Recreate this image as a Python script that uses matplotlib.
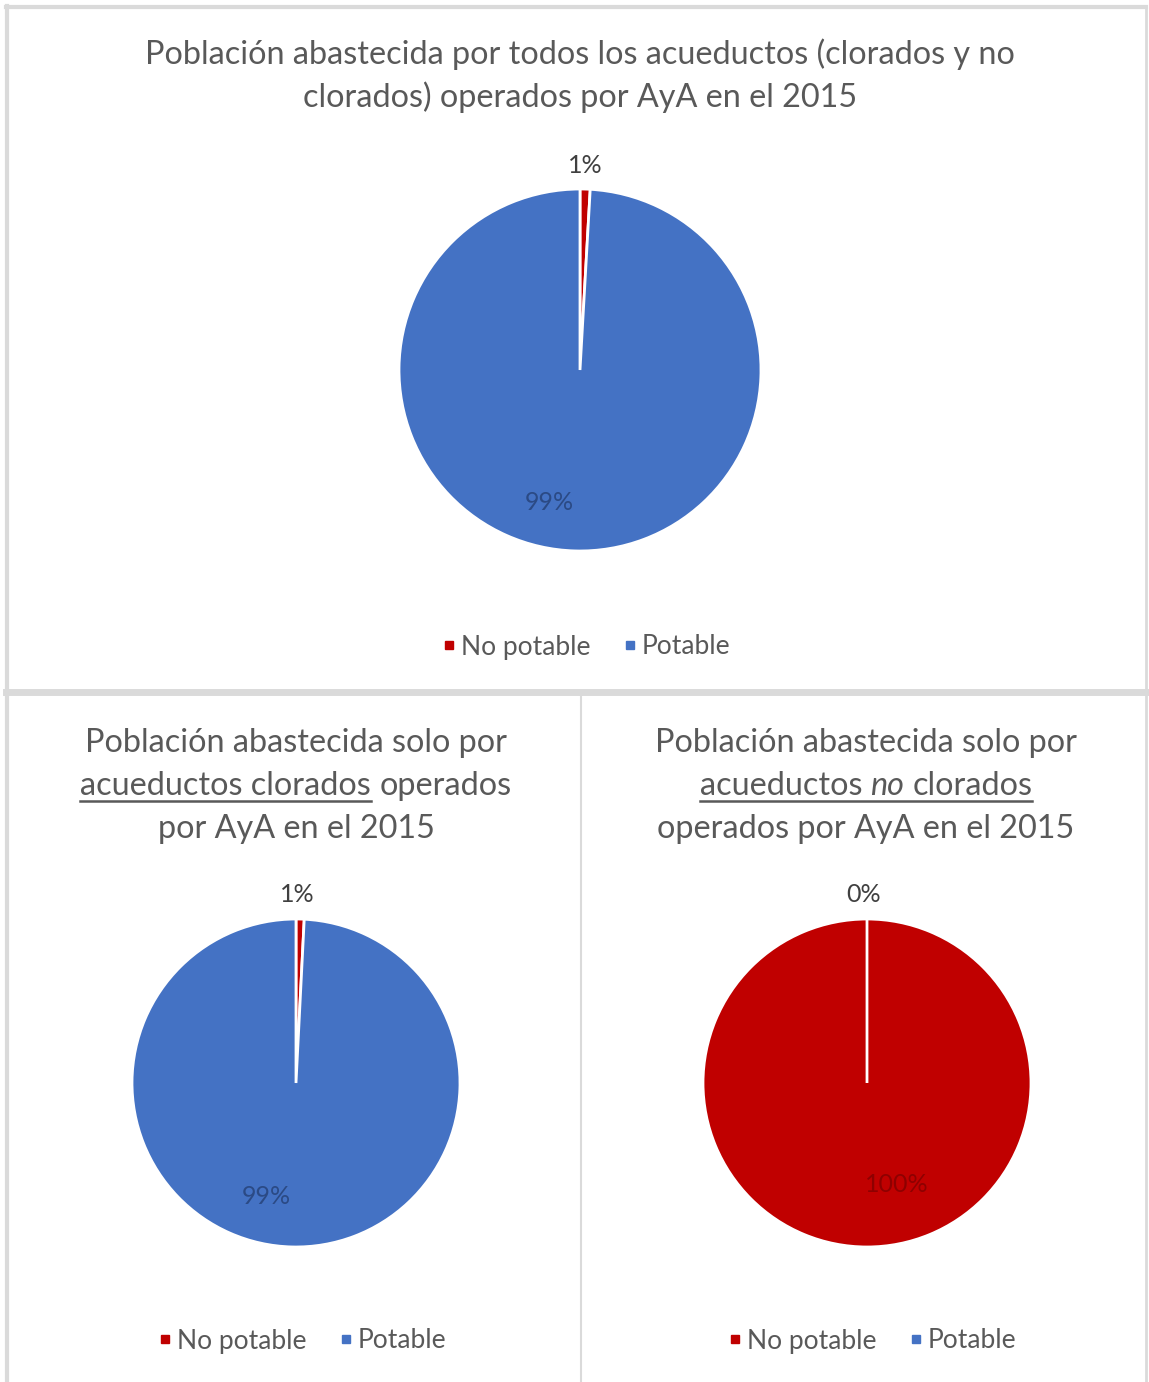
import matplotlib.pyplot as plt
from matplotlib.lines import Line2D

plt.rcParams['font.family'] = ['Lato', 'DejaVu Sans']

# datos (porcentaje de poblacion)
categorias = ['No potable', 'Potable']
colores = ['#C00000', '#4472C4']
todos = [0.9, 99.1]
clorados = [0.8, 99.2]
no_clorados = [100.0, 0.0]

W, H = 1149, 1382
gris = '#595959'
fig = plt.figure(figsize=(W / 100, H / 100), dpi=100)

# marcos grises de cada grafico
borde = '#DADADA'
def raya(x0, y0, x1, y1, lw):
    fig.add_artist(Line2D([x0 / W, x1 / W], [1 - y0 / H, 1 - y1 / H], color=borde, lw=lw))
raya(6, 7, 1146, 7, 3)
raya(7, 6, 7, 1382, 3)
raya(1146, 6, 1146, 1382, 2)
raya(6, 692, 1146, 692, 5)
raya(581, 694, 581, 1382, 1.5)

ren = fig.canvas.get_renderer()

def ancho(s, size, style='normal'):
    t = fig.text(0, 0, s, fontsize=size, style=style)
    w = t.get_window_extent(ren).width
    t.remove()
    return w

def linea(cx, yb, partes, size=23.3):
    # partes: (texto, estilo, subrayado)
    esp = ancho('a a', size) - ancho('aa', size)
    ts = [fig.text(0, 0, s, fontsize=size, style=st, color=gris, va='baseline', ha='left')
          for s, st, u in partes]
    ws = [t.get_window_extent(ren).width for t in ts]
    x = cx - (sum(ws) + esp * (len(ws) - 1)) / 2
    tramos = []
    for t, w, p in zip(ts, ws, partes):
        t.set_position((x / W, 1 - yb / H))
        if p[2]:
            if tramos and abs(tramos[-1][1] - (x - esp)) < 1e-6:
                tramos[-1][1] = x + w
            else:
                tramos.append([x, x + w])
        x += w + esp
    for a, b in tramos:
        fig.add_artist(Line2D([a / W, b / W], [1 - (yb + 6) / H] * 2, color=gris, lw=1.8))

def torta(cx, cy, r, valores, pos_etq, col_etq):
    ax = fig.add_axes([(cx - r) / W, 1 - (cy + r) / H, 2 * r / W, 2 * r / H])
    cunas, textos, auto = ax.pie(valores, colors=colores, startangle=90, counterclock=False,
                                 autopct='%.0f%%', wedgeprops=dict(edgecolor='white', linewidth=2))
    for t, p, c in zip(auto, pos_etq, col_etq):
        t.set_position(p)
        t.set_color(c)
        t.set_fontsize(18)
    ax.set_xlim(-1, 1)
    ax.set_ylim(-1, 1)
    return ax

def leyenda(cx, cy):
    h = [Line2D([], [], marker='s', ls='', color=c, markersize=6) for c in colores]
    fig.legend(h, categorias, loc='center', bbox_to_anchor=(cx / W, 1 - cy / H), ncol=2,
               frameon=False, fontsize=19, labelcolor=gris, handletextpad=0.15,
               columnspacing=1.2, handlelength=0.6)

# grafico superior
linea(580, 64, [('Población abastecida por todos los acueductos (clorados y no', 'normal', False)])
linea(580, 107, [('clorados) operados por AyA en el 2015', 'normal', False)])
torta(580, 370, 181, todos, [(0.03, 1.13), (-0.17, -0.73)], ['#404040', '#2B4A85'])
leyenda(586, 647)

# inferior izquierdo
linea(296, 752, [('Población abastecida solo por', 'normal', False)])
linea(296, 795, [('acueductos clorados', 'normal', True), ('operados', 'normal', False)])
linea(296, 838, [('por AyA en el 2015', 'normal', False)])
torta(296, 1083, 164, clorados, [(0.01, 1.15), (-0.18, -0.69)], ['#404040', '#2B4A85'])
leyenda(302, 1341)

# inferior derecho
linea(866, 752, [('Población abastecida solo por', 'normal', False)])
linea(866, 795, [('acueductos', 'normal', True), ('no', 'italic', True), ('clorados', 'normal', True)])
linea(866, 838, [('operados por AyA en el 2015', 'normal', False)])
torta(867, 1083, 164, no_clorados, [(0.18, -0.62), (-0.02, 1.15)], ['#8E0000', '#404040'])
leyenda(872, 1341)

fig.savefig('out.png', dpi=100)
